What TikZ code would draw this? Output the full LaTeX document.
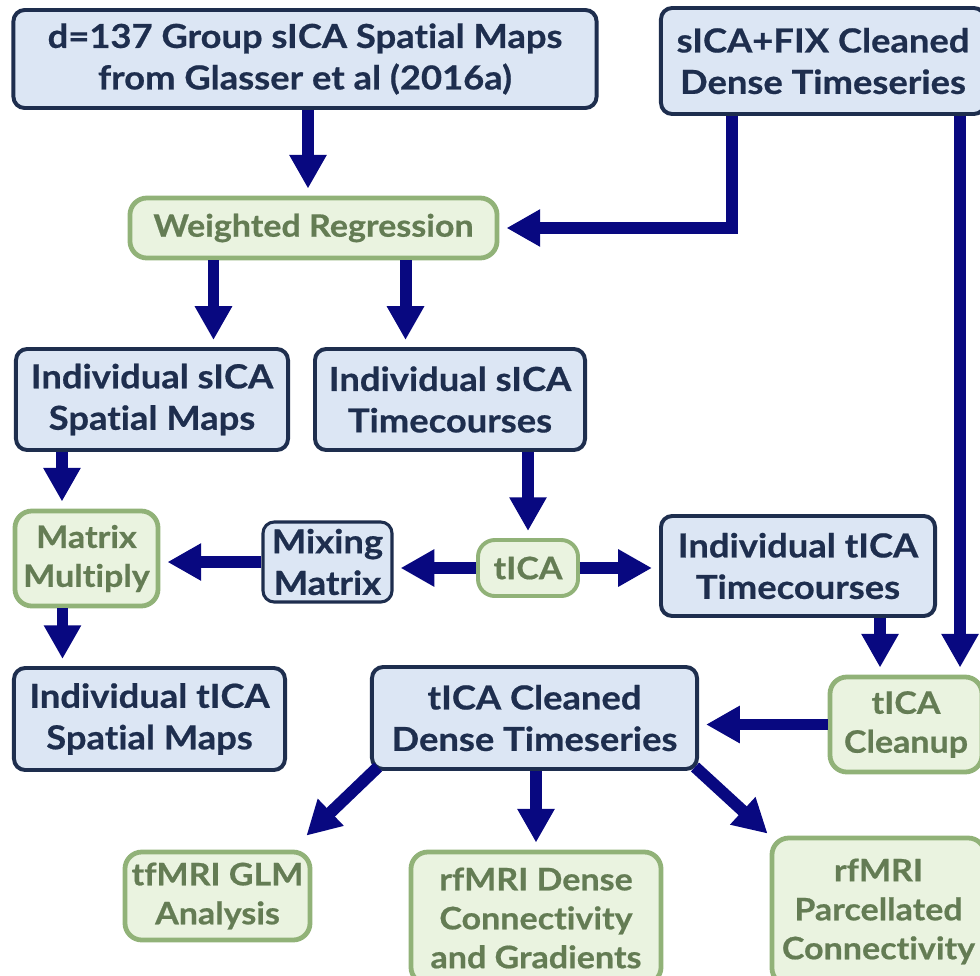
\documentclass[tikz,border=0pt]{standalone}
\usepackage{fontspec}
\setmainfont{Lato}[Ligatures=NoCommon, FakeStretch=1.1, BoldFeatures={FakeBold=0.6}]
\usetikzlibrary{arrows.meta}

\definecolor{bluefill}{RGB}{220,230,244}
\definecolor{blueline}{RGB}{30,46,78}
\definecolor{greenfill}{RGB}{234,243,224}
\definecolor{greenline}{RGB}{145,178,120}
\definecolor{greentext}{RGB}{100,124,84}
\definecolor{arrowblue}{RGB}{8,8,128}

\tikzset{
  bluebox/.style={draw=blueline, fill=bluefill, line width=2.8pt, rounded corners=8pt,
    text=blueline, align=center, inner sep=0pt, font=\bfseries\fontsize{23.5}{29.5}\selectfont},
  greenbox/.style={draw=greenline, fill=greenfill, line width=3.4pt, rounded corners=12pt,
    text=greentext, align=center, inner sep=0pt, font=\bfseries\fontsize{22}{27.7}\selectfont},
  arr/.style={draw=arrowblue, line width=8.5pt, -{Triangle[length=24pt,width=25pt]}, shorten >=5pt}
}

\begin{document}
\begin{tikzpicture}[x=0.025cm, y=-0.025cm]
\useasboundingbox (0,0) rectangle (980,975);

% top row
\node [bluebox, minimum width=14.575cm, minimum height=2.45cm] (grp) at (305,59) {d=137 Group sICA Spatial Maps\\from Glasser et al (2016a)};
\node [bluebox, minimum width=8.1cm, minimum height=2.65cm] (fix) at (823,61) {sICA+FIX Cleaned\\Dense Timeseries};

\node [greenbox, minimum width=9.175cm, minimum height=1.5cm] (wreg) at (313.5,228) {Weighted Regression};

\node [bluebox, minimum width=6.8cm, minimum height=2.525cm] (isp) at (152,399.5) {Individual sICA\\Spatial Maps};
\node [bluebox, minimum width=6.75cm, minimum height=2.525cm] (itc) at (450,399.5) {Individual sICA\\Timecourses};

% middle row
\node [greenbox, minimum width=3.575cm, minimum height=2.375cm] (mm) at (86.5,558.5) {Matrix\\Multiply};
\node [bluebox, line width=2.2pt, minimum width=3.225cm, minimum height=2cm] (mix) at (327.5,562) {Mixing\\Matrix};
\node [greenbox, line width=2.8pt, minimum width=2.5cm, minimum height=1.4cm] (tica) at (528,568) {tICA};
\node [bluebox, minimum width=6.85cm, minimum height=2.5cm] (itt) at (798,566) {Individual tICA\\Timecourses};

\node [bluebox, minimum width=6.775cm, minimum height=2.55cm] (itsp) at (149.5,719) {Individual tICA\\Spatial Maps};
\node [bluebox, minimum width=8.125cm, minimum height=2.55cm] (tcd) at (534.5,718) {tICA Cleaned\\Dense Timeseries};
\node [greenbox, minimum width=3.8cm, minimum height=2.375cm] (clean) at (906,724.5) {tICA\\Cleanup};

% outputs
\node [greenbox, minimum width=4.625cm, minimum height=2.2cm] (glm) at (217.5,896) {tfMRI GLM\\Analysis};
\node [greenbox, minimum width=6.25cm, minimum height=3.3cm] (dense) at (536,918) {rfMRI Dense\\Connectivity\\and Gradients};
\node [greenbox, minimum width=5.325cm, minimum height=3.675cm] (parc) at (878.5,911.5) {rfMRI\\Parcellated\\Connectivity};

% arrows
\draw [arr] (grp.south -| 308,0) -- (wreg.north -| 308,0);
\draw [arr] ([xshift=-2.275cm]fix.south) |- (wreg.east);
\draw [arr] ([xshift=3.425cm]fix.south) -- ([xshift=3.425cm]fix.south |- clean.north);
\draw [arr] ([xshift=-2.5cm]wreg.south) -- ([xshift=-2.5cm]wreg.south |- isp.north);
\draw [arr] ([xshift=2.3cm]wreg.south) -- ([xshift=2.3cm]wreg.south |- itc.north);
\draw [arr] ([xshift=-2.25cm]isp.south) -- ([xshift=-2.25cm]isp.south |- mm.north);
\draw [arr] (tica |- itc.south) -- (tica.north);
\draw [arr] (tica.west) -- (tica.west -| mix.east);
\draw [arr] (tica.east) -- (tica.east -| itt.west);
\draw [arr] (mix.west) -- (mix.west -| mm.east);
\draw [arr] ([xshift=-0.6cm]mm.south) -- ([xshift=-0.6cm]mm.south |- itsp.north);
\draw [arr] ([xshift=2.05cm]itt.south) -- ([xshift=2.05cm]itt.south |- clean.north);
\draw [arr] (clean.west) -- (clean.west -| tcd.east);
\draw [arr] (dense |- tcd.south) -- (dense.north);
\draw [arr, shorten >=0pt] ([shift={(0.2cm,0.1cm)}]tcd.south west) -- ([shift={(-0.15cm,0.35cm)}]glm.north east);
\draw [arr, shorten >=0pt] ([shift={(-0.1cm,0.1cm)}]tcd.south east) -- ([shift={(-0.05cm,0.05cm)}]parc.north west);

\end{tikzpicture}
\end{document}
